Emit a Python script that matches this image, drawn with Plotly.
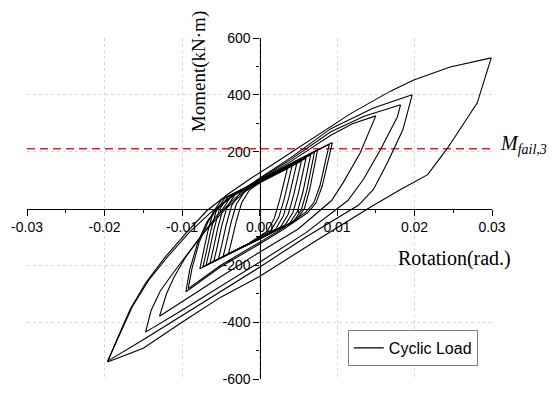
import plotly.graph_objects as go

# ---- data: rotation (rad) / moment (kN·m), one list pair per cycle ----
c1_rot = [0.0036, 0.0032, 0.0026, 0.0019, 0.0010, -0.0015, -0.0040, -0.0036, -0.0030, -0.0023, -0.0013, 0.0, 0.0020, 0.0036]
c1_mom = [141, 95, 30, -35, -80, -125, -159, -115, -45, 20, 65, 90, 118, 141]

c2_rot = [0.0042, 0.0038, 0.0032, 0.0025, 0.0015, -0.0015, -0.0047, -0.0043, -0.0037, -0.0030, -0.0019, 0.0, 0.0020, 0.0042]
c2_mom = [150, 102, 35, -30, -76, -125, -170, -125, -52, 15, 60, 92, 120, 150]

c3_rot = [0.0048, 0.0044, 0.0038, 0.0031, 0.0021, 0.0, -0.0025, -0.0053, -0.0049, -0.0043, -0.0036, -0.0025, 0.0, 0.0025, 0.0048]
c3_mom = [158, 110, 40, -25, -72, -105, -139, -178, -132, -58, 10, 56, 94, 127, 158]

c4_rot = [0.0054, 0.0050, 0.0044, 0.0037, 0.0027, 0.0, -0.0030, -0.0059, -0.0055, -0.0049, -0.0042, -0.0031, 0.0, 0.0030, 0.0054]
c4_mom = [167, 118, 46, -20, -66, -105, -146, -186, -140, -64, 5, 52, 95, 133, 167]

c5_rot = [0.0060, 0.0056, 0.0050, 0.0043, 0.0033, 0.0, -0.0030, -0.0064, -0.0060, -0.0054, -0.0047, -0.0036, 0.0, 0.0030, 0.0060]
c5_mom = [177, 126, 52, -15, -58, -105, -146, -193, -147, -70, 0, 46, 96, 135, 177]

c6_rot = [0.0066, 0.0062, 0.0056, 0.0049, 0.0039, 0.0, -0.0035, -0.0069, -0.0065, -0.0059, -0.0052, -0.0041, 0.0, 0.0035, 0.0066]
c6_mom = [189, 134, 58, -10, -52, -106, -153, -200, -153, -76, -5, 40, 97, 142, 189]

c7_rot = [0.0071, 0.0067, 0.0061, 0.0054, 0.0044, 0.0, -0.0035, -0.0073, -0.0069, -0.0063, -0.0056, -0.0045, 0.0, 0.0035, 0.0071]
c7_mom = [199, 142, 64, -5, -46, -107, -153, -205, -158, -80, -10, 36, 98, 145, 199]

c8_rot = [0.0075, 0.0071, 0.0065, 0.0058, 0.0048, 0.0, -0.0040, -0.0077, -0.0073, -0.0067, -0.0060, -0.0049, 0.0, 0.0040, 0.0075]
c8_mom = [207, 150, 70, 0, -40, -108, -160, -212, -163, -84, -14, 32, 99, 153, 207]

c9_rot = [0.0090, 0.0085, 0.0078, 0.0070, 0.0060, 0.0030, 0.0, -0.0050, -0.0092, -0.0087, -0.0078, -0.0066, -0.0054, -0.0040, 0.0, 0.0045, 0.0090]
c9_mom = [226, 160, 80, 20, -12, -70, -118, -200, -282, -210, -120, -45, 0, 35, 100, 162, 226]

c10_rot = [0.0094, 0.0088, 0.0081, 0.0073, 0.0062, 0.0030, 0.0, -0.0050, -0.0095, -0.0090, -0.0080, -0.0068, -0.0056, -0.0042, 0.0, 0.0045, 0.0094]
c10_mom = [232, 160, 80, 20, -15, -75, -125, -205, -293, -215, -122, -48, -3, 32, 100, 165, 232]

c11_rot = [0.0150, 0.0130, 0.0108, 0.0093, 0.0050, 0.0, -0.0050, -0.0129, -0.0120, -0.0110, -0.0095, -0.0075, -0.0055, -0.0030, 0.0, 0.0040, 0.0092, 0.0120, 0.0150]
c11_mom = [326, 196, 91, 28, -72, -154, -240, -379, -300, -240, -170, -95, -25, 40, 100, 165, 258, 298, 326]

c12_rot = [0.0182, 0.0178, 0.0156, 0.0134, 0.0114, 0.0060, 0.0, -0.0050, -0.0100, -0.0147, -0.0140, -0.0128, -0.0115, -0.0093, -0.0070, -0.0045, -0.0020, 0.0, 0.0040, 0.0092, 0.0135, 0.0182]
c12_mom = [365, 323, 207, 102, 28, -85, -189, -275, -358, -435, -360, -290, -240, -160, -80, -5, 55, 104, 172, 270, 325, 365]

c13_rot = [0.0197, 0.0185, 0.0165, 0.0147, 0.0128, 0.0060, 0.0, -0.0050, -0.0100, -0.0150, -0.0196, -0.0182, -0.0164, -0.0143, -0.0118, -0.0090, -0.0062, -0.0030, 0.0, 0.0040, 0.0092, 0.0147, 0.0197]
c13_mom = [400, 277, 161, 67, 12, -100, -207, -292, -378, -462, -537, -455, -345, -252, -168, -82, -12, 52, 106, 178, 281, 354, 400]

c14_rot = [0.0299, 0.0281, 0.0243, 0.0217, 0.0182, 0.0145, 0.0075, 0.0, -0.0050, -0.0100, -0.0150, -0.0175, -0.0196, -0.0184, -0.0167, -0.0147, -0.0122, -0.0094, -0.0068, -0.0040, -0.0010, 0.0020, 0.0050, 0.0092, 0.0117, 0.0169, 0.0199, 0.0246, 0.0299]
c14_mom = [530, 372, 214, 119, 67, 8, -110, -239, -312, -400, -492, -518, -540, -462, -355, -262, -172, -84, -8, 52, 108, 160, 213, 288, 333, 413, 452, 498, 530]

cycles_rot = [c1_rot, c2_rot, c3_rot, c4_rot, c5_rot, c6_rot, c7_rot,
              c8_rot, c9_rot, c10_rot, c11_rot, c12_rot, c13_rot, c14_rot]
cycles_mom = [c1_mom, c2_mom, c3_mom, c4_mom, c5_mom, c6_mom, c7_mom,
              c8_mom, c9_mom, c10_mom, c11_mom, c12_mom, c13_mom, c14_mom]

m_fail = 210
x_range = [-0.03, 0.03]
y_range = [-600, 600]
x_ticks = [-0.03, -0.02, -0.01, 0.0, 0.01, 0.02, 0.03]
x_ticktext = ["-0.03", "-0.02", "-0.01", "0.00", "0.01", "0.02", "0.03"]
x_minor = [-0.025, -0.015, -0.005, 0.005, 0.015, 0.025]
y_ticks = [-600, -400, -200, 200, 400, 600]
y_ticktext = ["-600", "-400", "-200", "200", "400", "600"]
y_minor = [-500, -300, -100, 100, 300, 500]

fig = go.Figure()

fig.add_trace(go.Scatter(x=x_range, y=[m_fail, m_fail], mode="lines",
                         line=dict(color="#dd2020", width=1.4, dash="8px,5px"),
                         showlegend=False, hoverinfo="skip"))

for i, (xr, ym) in enumerate(zip(cycles_rot, cycles_mom)):
    fig.add_trace(go.Scatter(x=xr, y=ym, mode="lines",
                             line=dict(color="black", width=1.1),
                             name="Cyclic Load", legendgroup="cyc",
                             showlegend=(i == 0)))

tickfont = dict(family="Liberation Sans, Arial, sans-serif", size=14, color="black")
serif = "Liberation Serif, Times New Roman, serif"

common_axis = dict(ticks="outside", ticklen=6, tickwidth=1, tickcolor="black",
                   showline=True, linecolor="black", linewidth=1.2,
                   zeroline=False, showgrid=True, gridcolor="#d8d8d8",
                   griddash="dot", gridwidth=1, automargin=False,
                   tickfont=tickfont, layer="below traces", anchor="free",
                   position=0.5, tickmode="array")

# the page body adds an 8px margin, so the figure is 8px smaller on each axis
fig.update_layout(
    width=551, height=388,
    margin=dict(l=19, r=67, t=30, b=17, autoexpand=False),
    paper_bgcolor="white", plot_bgcolor="white",
    showlegend=True,
    legend=dict(x=0.69, y=0.091, xanchor="left", yanchor="middle",
                bordercolor="#808080", borderwidth=1, bgcolor="white",
                font=dict(family="Liberation Sans, Arial, sans-serif", size=16, color="black"),
                itemwidth=30, tracegroupgap=0),
    xaxis=dict(range=x_range, side="bottom", tickvals=x_ticks, ticktext=x_ticktext,
               minor=dict(tickvals=x_minor, ticks="outside", ticklen=3,
                          tickcolor="black", showgrid=False),
               **common_axis),
    yaxis=dict(range=y_range, side="left", tickvals=y_ticks, ticktext=y_ticktext,
               minor=dict(tickvals=y_minor, ticks="outside", ticklen=3,
                          tickcolor="black", showgrid=False),
               **common_axis),
    annotations=[
        dict(text="Moment(kN·m)", xref="paper", yref="paper", x=0.370, y=0.900,
             textangle=-90, showarrow=False, xanchor="center", yanchor="middle",
             font=dict(family=serif, size=19, color="black")),
        dict(text="Rotation(rad.)", xref="paper", yref="paper", x=0.920, y=0.352,
             showarrow=False, xanchor="center", yanchor="middle",
             font=dict(family=serif, size=20, color="black")),
        dict(text="<i>M</i><sub><i>fail,3</i></sub>", xref="paper", yref="y",
             x=1.012, y=m_fail, yshift=4, showarrow=False, xanchor="left", yanchor="middle",
             font=dict(family=serif, size=20, color="black")),
    ],
)

fig.write_html("out.html")
